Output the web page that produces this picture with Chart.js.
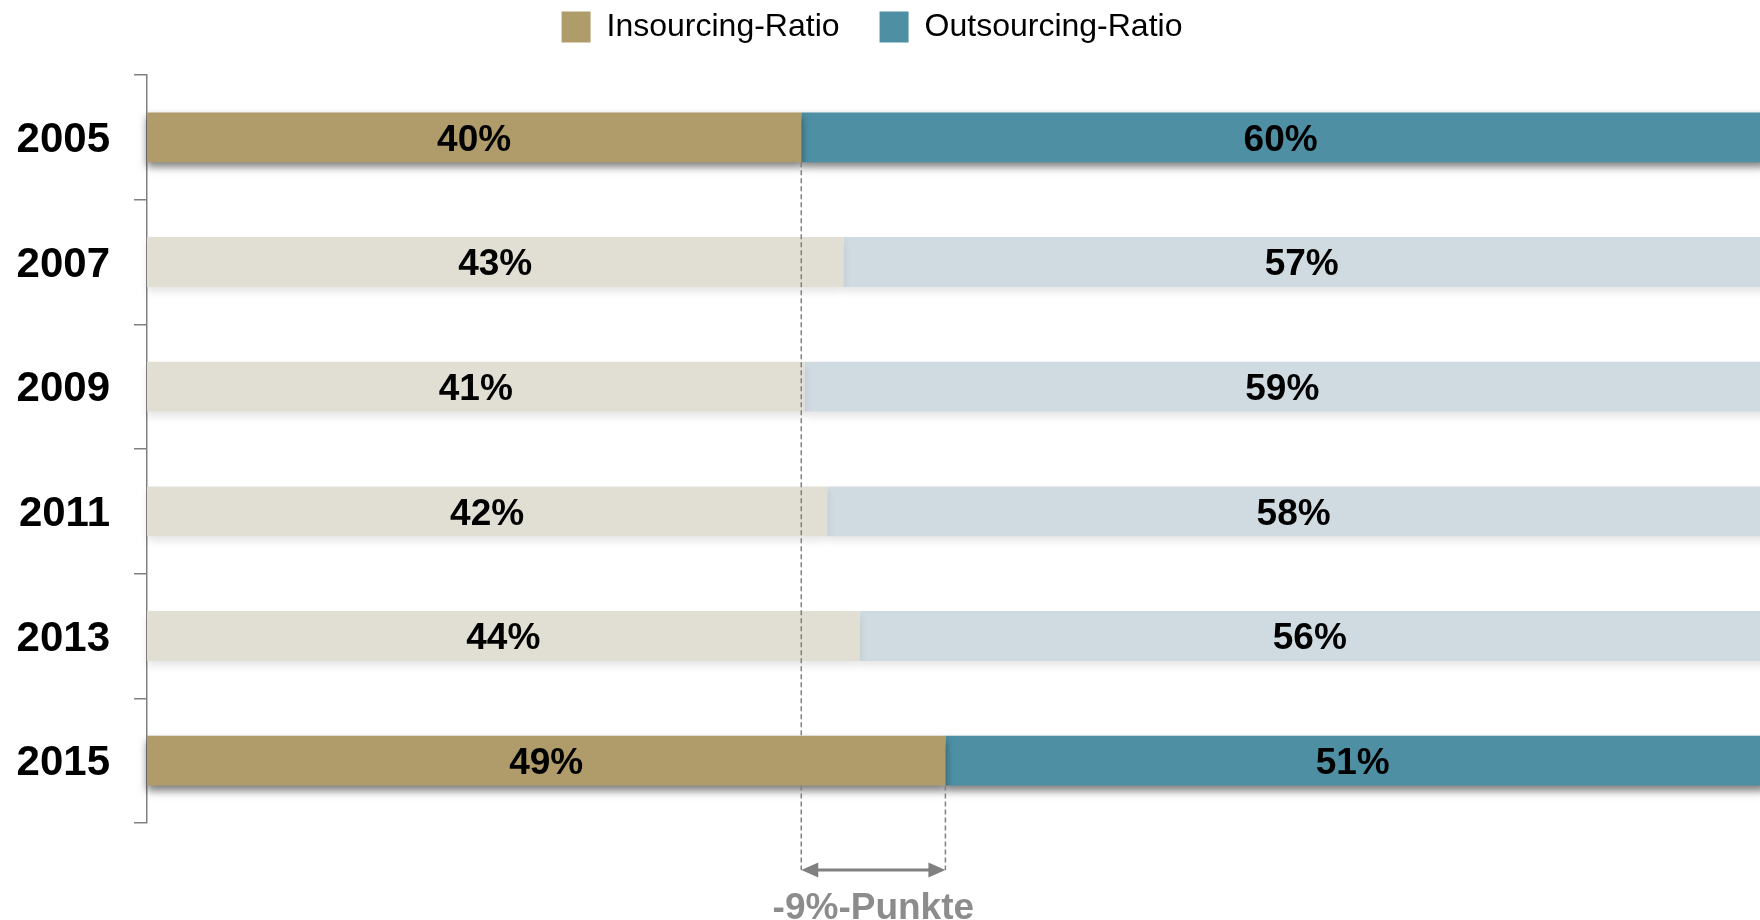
<!DOCTYPE html>
<html>
<head>
<meta charset="utf-8">
<script src="https://cdn.jsdelivr.net/npm/chart.js@4.4.0/dist/chart.umd.min.js"></script>
<style>
  html, body { margin: 0; padding: 0; background: #fff; }
  #wrap { width: 1760px; height: 920px; }
</style>
</head>
<body>
<div id="wrap"><canvas id="myChart" width="1760" height="920"></canvas></div>
<script>
// data
const years = ['2005', '2007', '2009', '2011', '2013', '2015'];
const insourcing = [40.4, 43, 40.6, 42, 44, 49.3];
const outsourcing = [59.6, 57, 59.4, 58, 56, 50.7];
const highlight = [true, false, false, false, false, true];
const deltaLabel = '-9%-Punkte';

const gold = '#B09C6A', goldLight = '#E1DFD4';
const teal = '#4E8FA4', tealLight = '#CFDBE0';
const grey = '#808080';

// bars with shadow, stronger on highlighted years
const barShadow = {
  id: 'barShadow',
  beforeDatasetDraw(chart, args) {
    const ctx = chart.ctx;
    args.meta.data.forEach((bar, i) => {
      ctx.save();
      ctx.shadowColor = highlight[i] ? 'rgba(0,0,0,0.5)' : 'rgba(0,0,0,0.10)';
      ctx.shadowBlur = 8;
      ctx.shadowOffsetY = 5;
      bar.draw(ctx);
      ctx.restore();
    });
    return false;
  }
};

// labels, dashed lines, arrow
const overlay = {
  id: 'overlay',
  afterDatasetsDraw(chart) {
    const ctx = chart.ctx;
    const x = chart.scales.x;
    const inMeta = chart.getDatasetMeta(0);
    const right = chart.width;

    ctx.save();
    ctx.font = 'bold 37px "Liberation Sans", Arial, sans-serif';
    ctx.fillStyle = '#000';
    ctx.textAlign = 'center';
    ctx.textBaseline = 'middle';
    years.forEach((y, i) => {
      const x0 = x.getPixelForValue(0);
      const x1 = x.getPixelForValue(insourcing[i]);
      const x2 = Math.min(x.getPixelForValue(insourcing[i] + outsourcing[i]), right);
      const yc = inMeta.data[i].y + 3;
      ctx.fillText(Math.round(insourcing[i]) + '%', (x0 + x1) / 2, yc);
      ctx.fillText(Math.round(outsourcing[i]) + '%', (x1 + x2) / 2, yc);
    });
    ctx.restore();

    const first = 0, last = years.length - 1;
    const xa = x.getPixelForValue(insourcing[first]);
    const xb = x.getPixelForValue(insourcing[last]);
    const b0 = inMeta.data[first], b1 = inMeta.data[last];
    const arrowY = 870;

    ctx.save();
    ctx.strokeStyle = grey;
    ctx.lineWidth = 1.5;
    ctx.setLineDash([5, 3]);
    ctx.beginPath();
    ctx.moveTo(xa, b0.y + b0.height / 2);
    ctx.lineTo(xa, b1.y - b1.height / 2);
    ctx.moveTo(xa, b1.y + b1.height / 2);
    ctx.lineTo(xa, arrowY);
    ctx.moveTo(xb, b1.y + b1.height / 2);
    ctx.lineTo(xb, arrowY);
    ctx.stroke();

    ctx.setLineDash([]);
    ctx.lineWidth = 3;
    ctx.beginPath();
    ctx.moveTo(xa + 12, arrowY);
    ctx.lineTo(xb - 12, arrowY);
    ctx.stroke();
    ctx.fillStyle = grey;
    ctx.beginPath();
    ctx.moveTo(xa, arrowY);
    ctx.lineTo(xa + 17, arrowY - 7.5);
    ctx.lineTo(xa + 17, arrowY + 7.5);
    ctx.closePath();
    ctx.moveTo(xb, arrowY);
    ctx.lineTo(xb - 17, arrowY - 7.5);
    ctx.lineTo(xb - 17, arrowY + 7.5);
    ctx.closePath();
    ctx.fill();

    ctx.fillStyle = '#8C8C8C';
    ctx.font = 'bold 37px "Liberation Sans", Arial, sans-serif';
    ctx.textAlign = 'center';
    ctx.textBaseline = 'middle';
    ctx.fillText(deltaLabel, (xa + xb) / 2, 909);
    ctx.restore();
  }
};

// legend: fixed height, pulled up and a bit to the left
const legendBox = {
  id: 'legendBox',
  beforeInit(chart) {
    const fit = chart.legend.fit;
    chart.legend.fit = function () {
      fit.bind(chart.legend)();
      this.height = 75;
    };
  },
  afterLayout(chart) {
    chart.legend.top = -29;
    chart.legend.left -= 8;
    chart.legend.right -= 8;
  }
};

document.addEventListener('DOMContentLoaded', function () {
  const ctx = document.getElementById('myChart').getContext('2d');

  const config = {
    type: 'bar',
    data: {
      labels: years,
      datasets: [{
        label: 'Insourcing-Ratio',
        data: insourcing,
        backgroundColor: highlight.map(h => h ? gold : goldLight),
        borderWidth: 0,
        categoryPercentage: 1,
        barPercentage: 0.4
      }, {
        label: 'Outsourcing-Ratio',
        data: outsourcing,
        backgroundColor: highlight.map(h => h ? teal : tealLight),
        borderWidth: 0,
        categoryPercentage: 1,
        barPercentage: 0.4
      }]
    },
    options: {
      indexAxis: 'y',
      responsive: false,
      animation: false,
      layout: { padding: { left: 0, right: 0, top: 0, bottom: 97 } },
      scales: {
        x: {
          stacked: true,
          min: 0,
          max: 99.6,
          display: false
        },
        y: {
          stacked: true,
          afterFit(scale) { scale.width = 147; },
          border: { display: true, color: grey, width: 1.5 },
          grid: { drawOnChartArea: false, color: grey, lineWidth: 1.5, tickLength: 13 },
          ticks: {
            color: '#000',
            padding: 24,
            labelOffset: 3,
            font: { family: '"Liberation Sans", Arial, sans-serif', size: 42, weight: 'bold' }
          }
        }
      },
      plugins: {
        tooltip: { enabled: false },
        legend: {
          position: 'top',
          labels: {
            boxWidth: 29,
            boxHeight: 31,
            padding: 40,
            color: '#000',
            font: { family: '"Liberation Sans", Arial, sans-serif', size: 32 },
            generateLabels(chart) {
              return chart.data.datasets.map((ds, i) => ({
                text: ds.label,
                fillStyle: i === 0 ? gold : teal,
                strokeStyle: i === 0 ? gold : teal,
                lineWidth: 0,
                datasetIndex: i
              }));
            }
          }
        }
      }
    },
    plugins: [barShadow, overlay, legendBox]
  };

  new Chart(ctx, config);
});
</script>
</body>
</html>
